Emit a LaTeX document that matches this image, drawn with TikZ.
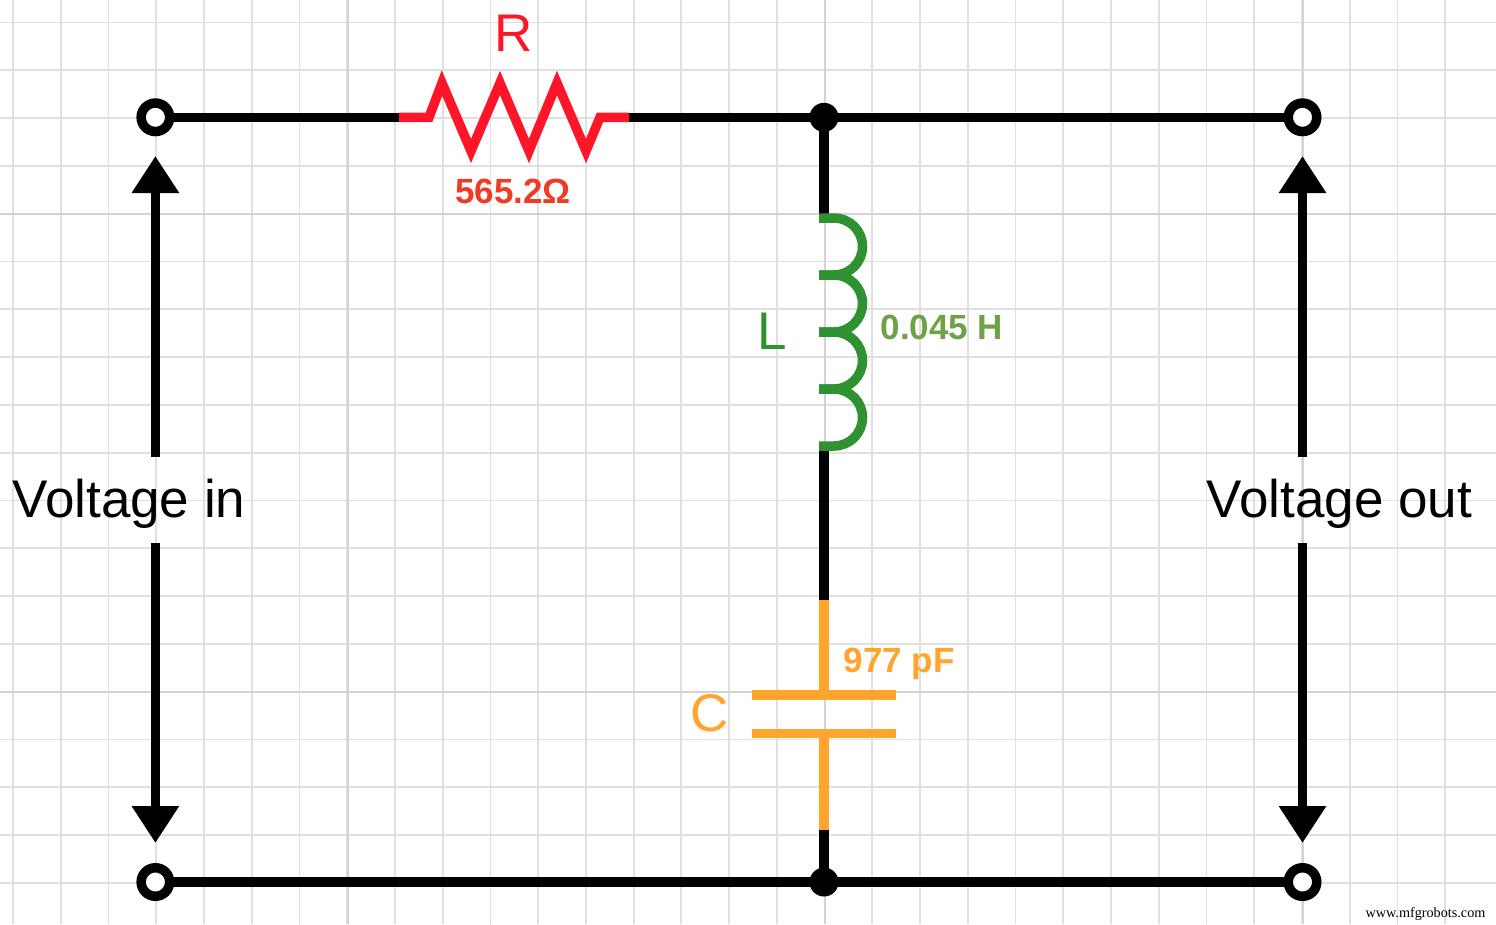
\documentclass[tikz,border=0pt]{standalone}
\usepackage{fontspec}
\setmainfont{Liberation Sans}
\newfontfamily\wmfont{Liberation Serif}
\usetikzlibrary{arrows.meta}
\definecolor{gridc}{HTML}{E0E0E0}
\definecolor{gridm}{HTML}{D4D4D4}
\definecolor{redw}{HTML}{FF1528}
\definecolor{redt}{HTML}{F03A24}
\definecolor{greenw}{HTML}{2E9230}
\definecolor{greent}{HTML}{6FA145}
\definecolor{orangew}{HTML}{FFA52E}
\tikzset{
  gridline/.style={gridc,line width=1.8pt},
  gridmajor/.style={gridm,line width=2.6pt},
  wire/.style={black,line width=9.5pt},
  terminal/.style={circle,draw=black,fill=white,line width=9.5pt,minimum size=28.5pt,inner sep=0pt,outer sep=0pt},
  junction/.style={circle,fill=black,minimum size=29pt,inner sep=0pt,outer sep=0pt},
  resistor/.style={redw,line width=9.5pt,miter limit=10},
  inductor/.style={greenw,line width=9.5pt},
  capwire/.style={orangew,line width=9.5pt},
  volt/.style={black,line width=9.5pt,-{Triangle[length=37pt,width=45pt]}},
  bigtext/.style={font=\fontsize{53}{53}\selectfont,inner sep=0pt},
  symb/.style={font=\fontsize{53}{53}\selectfont,inner sep=0pt},
  valtext/.style={font=\bfseries\fontsize{35}{35}\selectfont,inner sep=0pt}
}
\begin{document}
\begin{tikzpicture}[x=1pt,y=-1pt]
\useasboundingbox (0,0) rectangle (1496,924);
\fill[white] (0,0) rectangle (1496,924);
% grid
\foreach \k in {0,...,30} {
  \pgfmathsetmacro{\gx}{13+47.74*\k}
  \draw[gridline] (\gx,0) -- (\gx,924);
}
\foreach \k in {0,...,18} {
  \pgfmathsetmacro{\gy}{22.5+47.8*\k}
  \draw[gridline] (0,\gy) -- (1496,\gy);
}
\foreach \gx in {348,825,1303} \draw[gridmajor] (\gx,0) -- (\gx,924);
\foreach \gy in {214,692} \draw[gridmajor] (0,\gy) -- (1496,\gy);
% named places
\coordinate (jtc) at (824,117.3);
\coordinate (jbc) at (824,882);
\coordinate (ra) at (399,117.3);
\coordinate (rb) at (629,117.3);
\coordinate (la) at (824,217);
\coordinate (lb) at (824,447);
\coordinate (ca) at (824,600);
\coordinate (cb) at (824,830);
\coordinate (ilu) at (155.4,457);
\coordinate (ilut) at (155.4,156);
\coordinate (ild) at (155.4,543);
\coordinate (ildt) at (155.4,843);
\coordinate (olu) at (1302.5,457);
\coordinate (olut) at (1302.5,156);
\coordinate (old) at (1302.5,543);
\coordinate (oldt) at (1302.5,843);
\node[terminal] (tl) at (155.4,117.3) {};
\node[terminal] (tr) at (1302.5,117.3) {};
\node[terminal] (bl) at (155.4,882) {};
\node[terminal] (br) at (1302.5,882) {};
% wires
\draw[wire] (tl) -- (ra);
\draw[wire] (rb) -- (jtc);
\draw[wire] (jtc) -- (tr);
\draw[wire] (jtc) -- (la);
\draw[wire] (lb) -- (ca);
\draw[wire] (cb) -- (jbc);
\draw[wire] (bl) -- (jbc);
\draw[wire] (jbc) -- (br);
\node[junction] (jt) at (jtc) {};
\node[junction] (jb) at (jbc) {};
% resistor
\draw[resistor] (ra) -- (429,117.3) -- (442,83) -- (471,151) -- (500,83) -- (529,151) -- (557,83) -- (586,151) -- (600,117.3) -- (rb);
% inductor
\draw[inductor] (819,218) -- (834,218) arc[start angle=-90,end angle=90,radius=28.5] -- (819,275);
\draw[inductor] (819,275) -- (834,275) arc[start angle=-90,end angle=90,radius=28.5] -- (819,332);
\draw[inductor] (819,332) -- (834,332) arc[start angle=-90,end angle=90,radius=28.5] -- (819,389);
\draw[inductor] (819,389) -- (834,389) arc[start angle=-90,end angle=90,radius=28.5] -- (819,446);
% capacitor
\draw[capwire] (ca) -- (824,695);
\draw[capwire] (752,695) -- (896,695);
\draw[capwire] (752,733.5) -- (896,733.5);
\draw[capwire] (824,733.5) -- (cb);
% voltage arrows
\draw[volt] (ilu) -- (ilut);
\draw[volt] (ild) -- (ildt);
\draw[volt] (olu) -- (olut);
\draw[volt] (old) -- (oldt);
% labels
\node[symb,text=redw] (rl) at (514,33) {R};
\node[valtext,text=redt] (rv) at (513,191) {565.2Ω};
\node[symb,text=greenw] (ll) at (772,331) {L};
\node[valtext,text=greent] (lv) at (942,327) {0.045 H};
\node[symb,text=orangew] (cl) at (710,713) {C};
\node[valtext,text=orangew] (cv) at (899,664) {977 pF};
\node[bigtext] (vi) at (129,503.5) {Voltage in};
\node[bigtext] (vo) at (1339.5,503.5) {Voltage out};
\node[inner sep=0pt,font=\wmfont\fontsize{14.2}{15}\selectfont] (wm) at (1425.5,914) {www.mfgrobots.com};
\end{tikzpicture}
\end{document}
